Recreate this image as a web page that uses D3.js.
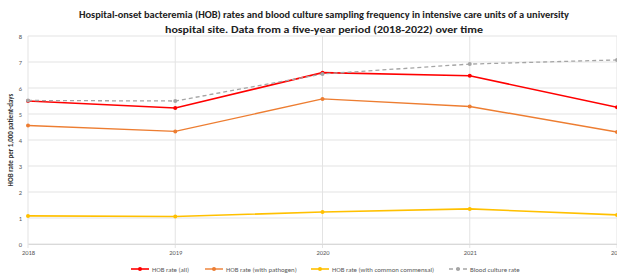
<!DOCTYPE html>
<html><head><meta charset="utf-8">
<script src="https://cdn.jsdelivr.net/npm/d3@7"></script>
<style>body{margin:0;background:#fff}svg{display:block}</style>
</head><body>
<svg id="c" width="617" height="276"></svg>
<script>
const years = [2018, 2019, 2020, 2021, 2022];
const hobAll = [5.50, 5.23, 6.59, 6.47, 5.26];
const hobPathogen = [4.56, 4.33, 5.58, 5.29, 4.31];
const hobCommensal = [1.08, 1.06, 1.23, 1.35, 1.12];
const bloodCulture = [5.52, 5.50, 6.54, 6.92, 7.08];
const yTicks = [0, 1, 2, 3, 4, 5, 6, 7, 8];
const seriesNames = ["HOB rate (all)", "HOB rate (with pathogen)", "HOB rate (with common commensal)", "Blood culture rate"];
const titleLines = ["Hospital-onset bacteremia (HOB) rates and blood culture sampling frequency in intensive care units of a university",
  "hospital site. Data from a five-year period (2018-2022) over time"];
const yLabel = "HOB rate per 1,000 patient-days";

const series = [
  {name: seriesNames[0], values: hobAll, color: "#FF0000", width: 1.6, dash: null},
  {name: seriesNames[1], values: hobPathogen, color: "#ED7D31", width: 1.4, dash: null},
  {name: seriesNames[2], values: hobCommensal, color: "#FFC000", width: 1.6, dash: null},
  {name: seriesNames[3], values: bloodCulture, color: "#A5A5A5", width: 1.3, dash: "4,3"}
];

const svg = d3.select("#c");
const x = d3.scaleLinear().domain([2018, 2022]).range([28, 617]);
const y = d3.scaleLinear().domain([0, 8]).range([244, 36]);
const font = "Calibri, 'Liberation Sans', Arial, sans-serif";

// title
svg.selectAll("text.title").data(titleLines).enter().append("text")
  .attr("x", 324).attr("y", (d, i) => 18 + i * 15)
  .attr("text-anchor", "middle").attr("font-family", font)
  .attr("font-weight", "bold").attr("font-size", 10).attr("fill", "#222")
  .attr("textLength", (d, i) => i === 0 ? 490 : 318).attr("lengthAdjust", "spacingAndGlyphs")
  .text(d => d);

// gridlines
svg.append("g").selectAll("line").data(yTicks).enter().append("line")
  .attr("x1", 28).attr("x2", 617).attr("y1", d => y(d)).attr("y2", d => y(d))
  .attr("stroke", "#e3e3e3").attr("stroke-width", 1);
svg.append("g").selectAll("line").data(years).enter().append("line")
  .attr("x1", d => x(d)).attr("x2", d => x(d)).attr("y1", y(8)).attr("y2", y(0) + 4)
  .attr("stroke", "#e3e3e3").attr("stroke-width", 1);

// y axis
const yAxis = d3.axisLeft(y).tickValues(yTicks).tickSize(0).tickPadding(6);
const ga = svg.append("g").attr("transform", "translate(28,0)").call(yAxis);
ga.select(".domain").remove();
ga.selectAll("text").attr("font-size", 6.5).attr("fill", "#595959").attr("font-family", font);

// x axis
const xAxis = d3.axisBottom(x).tickValues(years).tickFormat(d3.format("d")).tickSize(0).tickPadding(6);
const gx = svg.append("g").attr("transform", "translate(0,244)").call(xAxis);
gx.select(".domain").attr("stroke", "#d9d9d9");
gx.selectAll("text").attr("font-size", 6.5).attr("fill", "#595959").attr("font-family", font);

// y label
svg.append("text").attr("transform", "translate(13,140) rotate(-90)")
  .attr("text-anchor", "middle").attr("font-family", font).attr("font-weight", "bold")
  .attr("font-size", 7).attr("fill", "#333").text(yLabel);

// lines
const line = d3.line().x((d, i) => x(years[i])).y(d => y(d));
series.forEach(s => {
  svg.append("path").datum(s.values).attr("d", line).attr("fill", "none")
    .attr("stroke", s.color).attr("stroke-width", s.width)
    .attr("stroke-dasharray", s.dash);
  svg.append("g").selectAll("circle").data(s.values).enter().append("circle")
    .attr("cx", (d, i) => x(years[i])).attr("cy", d => y(d)).attr("r", 2)
    .attr("fill", s.color);
});

// legend
const legendX = [131, 205, 311, 449];
const lg = svg.append("g");
series.forEach((s, i) => {
  const g = lg.append("g").attr("transform", `translate(${legendX[i]},269)`);
  g.append("line").attr("x1", 0).attr("x2", 18).attr("y1", 0).attr("y2", 0)
    .attr("stroke", s.color).attr("stroke-width", s.width).attr("stroke-dasharray", s.dash);
  g.append("circle").attr("cx", 9).attr("cy", 0).attr("r", 2).attr("fill", s.color);
  g.append("text").attr("x", 21).attr("y", 2.5).attr("font-size", 6.8)
    .attr("font-family", font).attr("fill", "#595959").text(s.name);
});
</script>
</body></html>
